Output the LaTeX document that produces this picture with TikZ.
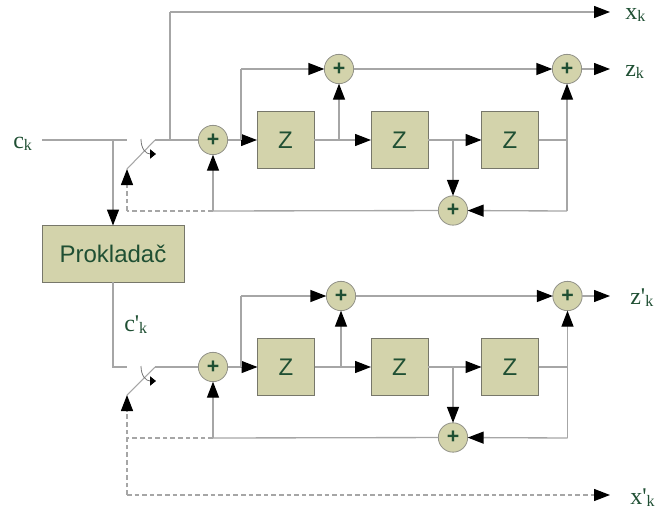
\documentclass[tikz,border=0pt]{standalone}
\usepackage{fontspec}
\setmainfont{Liberation Serif}
\newfontfamily\blockfont{Liberation Sans}
\usetikzlibrary{arrows.meta,calc}
\definecolor{blockfill}{HTML}{D3D3AB}
\definecolor{blockedge}{HTML}{77776A}
\definecolor{inkgreen}{HTML}{1F4F33}
\definecolor{wire}{HTML}{A6A6A6}
\newcommand{\lab}[2]{#1\raisebox{-1.5pt}{\fontsize{12}{12}\selectfont #2}}
\tikzset{
  blk/.style={draw=blockedge,line width=0.75pt,fill=blockfill,inner sep=0pt,outer sep=0pt,text=inkgreen,font=\blockfont\fontsize{18}{18}\selectfont},
  zblk/.style={blk,minimum width=42.75pt,minimum height=42.75pt},
  sumn/.style={circle,draw=blockedge!80,line width=0.6pt,fill=blockfill,minimum size=22pt,inner sep=0pt,outer sep=0pt,text=inkgreen,font=\blockfont\bfseries\fontsize{16}{16}\selectfont},
  lbl/.style={text=inkgreen,font=\fontsize{18}{18}\selectfont,inner sep=0pt,anchor=base west},
  wireline/.style={draw=wire,line width=1pt},
  dashline/.style={wireline,dash pattern=on 3.5pt off 2.2pt},
  arr/.style={-{Triangle[length=12pt,width=9pt,fill=black,color=black]}},
  thinarr/.style={draw=wire!70!black,line width=0.6pt,-{Triangle[length=4.5pt,width=7pt,fill=black,color=black]}},
  swline/.style={draw=wire,line width=0.8pt}
}
\begin{document}
\begin{tikzpicture}[x=0.75pt,y=-0.75pt]
\useasboundingbox (0,0) rectangle (656,510);
\node[blk,minimum width=106.5pt,minimum height=42.75pt] (prok) at (113,254) {Prokladač};
\node[sumn] (s1) at (213,140) {+};
\node[zblk] (z1) at (285.5,140) {Z};
\node[zblk] (z2) at (399.5,140) {Z};
\node[zblk] (z3) at (510,140) {Z};
\node[sumn] (s2) at (339,69) {+};
\node[sumn] (s3) at (567,69) {+};
\node[sumn] (s4) at (453,210.5) {+};
\node[sumn] (t1) at (213,367) {+};
\node[zblk] (y1) at (286,367) {Z};
\node[zblk] (y2) at (399.5,367) {Z};
\node[zblk] (y3) at (510,367) {Z};
\node[sumn] (t2) at (341,296) {+};
\node[sumn] (t3) at (567.5,296) {+};
\node[sumn] (t4) at (453,437.5) {+};
\node[lbl] (lc) at (13,148) {\lab{c}{k}};
\node[lbl] (lx) at (625,20) {\lab{x}{k}};
\node[lbl] (lz) at (625,77) {\lab{z}{k}};
\node[lbl] (lcp) at (124,331) {\lab{c\textquotesingle}{k}};
\node[lbl] (lzp) at (630,304) {\lab{z\textquotesingle}{k}};
\node[lbl] (lxp) at (630,504) {\lab{x\textquotesingle}{k}};
\coordinate (in) at (42,140);
\coordinate (inend) at (127,140);
\coordinate (sa) at (155,140);
\coordinate (sb) at (127,169);
\coordinate (ina) at (113,140);
\coordinate (xb) at (170,140);
\coordinate (xt) at (170,12);
\coordinate (xe) at (610,12);
\coordinate (zo) at (610,69);
\coordinate (fb) at (213,211);
\coordinate (fbd) at (127,211);
\coordinate (tap1) at (241,140);
\coordinate (tap1u) at (241,69);
\coordinate (tap2) at (339,140);
\coordinate (tap3) at (453,140);
\coordinate (r) at (567,140);
\coordinate (rd) at (567,211);
\draw[wireline] (in) -- (inend);
\draw[wireline,arr] (ina) -- (prok.north -| ina);
\draw[swline] (sb) -- (sa);
\draw[wireline] (sa) -- (s1);
\draw[thinarr] (141,139) .. controls (141,149) and (146,154) .. (156,154);
\draw[wireline] (xb) -- (xt);
\draw[wireline,arr] (xt) -- (xe);
\draw[wireline,arr] (s1) -- (z1);
\draw[wireline] (tap1) -- (tap1u);
\draw[wireline,arr] (tap1u) -- (s2);
\draw[wireline,arr] (s2) -- (s3);
\draw[wireline,arr] (s3) -- (zo);
\draw[wireline,arr] (z1) -- (z2);
\draw[wireline,arr] (tap2) -- (s2);
\draw[wireline,arr] (z2) -- (z3);
\draw[wireline,arr] (tap3) -- (s4);
\draw[wireline] (z3) -- (r);
\draw[wireline,arr] (r) -- (s3);
\draw[wireline] (r) -- (rd);
\draw[wireline,arr] (rd) -- (s4);
\draw[wireline] (s4) -- (fb);
\draw[wireline,arr] (fb) -- (s1);
\draw[dashline] (fb) -- (fbd);
\draw[dashline,arr] (fbd) -- (sb);
\coordinate (oa) at (113,282);
\coordinate (ob) at (113,367);
\coordinate (oe) at (127,367);
\coordinate (qa) at (155,367);
\coordinate (qb) at (127,395);
\coordinate (gb) at (213,438);
\coordinate (gd) at (127,438);
\coordinate (gl) at (127,495);
\coordinate (ge) at (610,495);
\coordinate (ztap1) at (241,367);
\coordinate (ztap1u) at (241,296);
\coordinate (ztap2) at (341,367);
\coordinate (ztap3) at (453,367);
\coordinate (zr) at (567.5,367);
\coordinate (zrd) at (567.5,438);
\coordinate (zo2) at (610,296);
\draw[wireline] (oa) -- (ob) -- (oe);
\draw[swline] (qb) -- (qa);
\draw[wireline] (qa) -- (t1);
\draw[thinarr] (141,366) .. controls (141,376) and (146,381) .. (156,381);
\draw[wireline,arr] (t1) -- (y1);
\draw[wireline] (ztap1) -- (ztap1u);
\draw[wireline,arr] (ztap1u) -- (t2);
\draw[wireline,arr] (t2) -- (t3);
\draw[wireline,arr] (t3) -- (zo2);
\draw[wireline,arr] (y1) -- (y2);
\draw[wireline,arr] (ztap2) -- (t2);
\draw[wireline,arr] (y2) -- (y3);
\draw[wireline,arr] (ztap3) -- (t4);
\draw[wireline] (y3) -- (zr);
\draw[wireline,arr] (zr) -- (t3);
\draw[wireline] (zr) -- (zrd);
\draw[wireline,arr] (zrd) -- (t4);
\draw[wireline] (t4) -- (gb);
\draw[wireline,arr] (gb) -- (t1);
\draw[dashline] (gb) -- (gd);
\draw[dashline,arr] (gl) -- (qb);
\draw[dashline,arr] (gl) -- (ge);
\end{tikzpicture}
\end{document}
